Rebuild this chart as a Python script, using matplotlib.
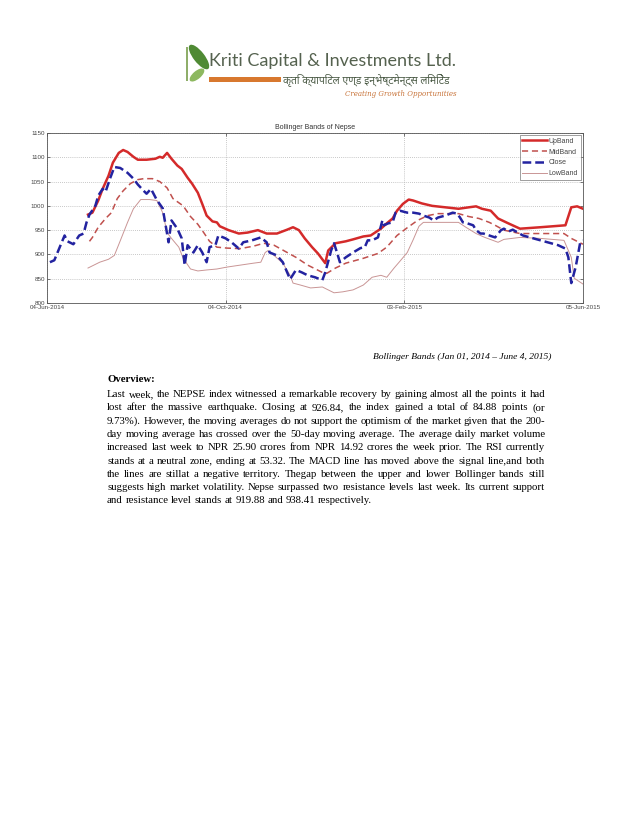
import numpy as np
import matplotlib
matplotlib.use("Agg")
import matplotlib.pyplot as plt
from matplotlib.patches import Ellipse, Rectangle

# ---------------- data ----------------
start_date = np.datetime64("2014-06-04")

close_days = [2, 5, 12, 14, 18, 22, 25, 27, 29, 33, 35, 38, 40, 43, 46, 50, 55, 59, 62, 66, 68, 71, 75, 79,
              83, 85, 89, 92, 94, 96, 100, 103, 106, 109, 111, 115, 117, 122, 126, 131, 134, 140, 146, 150,
              152, 157, 161, 166, 170, 174, 178, 183, 188, 190, 194, 196, 198, 200, 204, 209, 214, 217, 219,
              222, 226, 229, 230, 233, 236, 238, 241, 246, 250, 254, 257, 261, 264, 267, 272, 277, 280, 282,
              284, 287, 291, 293, 296, 298, 302, 306, 310, 312, 315, 318, 325, 337, 349, 354, 356, 358, 361,
              364, 366]
close_vals = [884, 888, 939, 927, 921, 939, 943, 966, 982, 1000, 1021, 1035, 1029, 1056, 1080, 1078, 1068, 1056,
              1044, 1031, 1025, 1035, 1012, 995, 925, 970, 953, 933, 878, 919, 904, 919, 904, 884, 915, 919,
              939, 933, 925, 912, 925, 929, 935, 925, 904, 898, 884, 849, 868, 863, 857, 853, 847, 863, 908,
              923, 904, 884, 894, 904, 913, 915, 929, 929, 935, 970, 960, 964, 966, 986, 990, 986, 986, 984,
              980, 976, 970, 976, 980, 986, 984, 976, 966, 964, 960, 950, 943, 943, 939, 935, 950, 953, 947,
              951, 939, 929, 919, 912, 894, 841, 874, 923, 929]

up_days = [28, 31, 35, 38, 42, 45, 49, 52, 55, 59, 62, 68, 74, 77, 79, 82, 85, 89, 92, 96, 99, 103, 106, 109,
           113, 116, 118, 124, 131, 137, 144, 150, 157, 164, 168, 172, 176, 181, 185, 190, 192, 197, 204, 209,
           216, 221, 224, 228, 232, 236, 239, 243, 247, 250, 256, 263, 272, 281, 288, 293, 297, 303, 308, 315,
           323, 337, 354, 358, 362, 366]
up_vals = [982, 986, 1011, 1035, 1062, 1089, 1109, 1115, 1111, 1101, 1095, 1095, 1097, 1101, 1099, 1109, 1097,
           1083, 1076, 1058, 1046, 1027, 1004, 980, 968, 966, 958, 950, 943, 945, 950, 943, 943, 951, 956, 950,
           933, 915, 902, 882, 908, 923, 927, 931, 937, 939, 945, 953, 964, 974, 990, 1004, 1013, 1011, 1005,
           1000, 997, 994, 997, 999, 994, 990, 974, 964, 953, 956, 960, 997, 999, 994]

mid_days = [29, 31, 35, 40, 44, 48, 52, 57, 62, 66, 72, 77, 82, 86, 93, 98, 103, 107, 111, 116, 123, 132, 141,
            148, 155, 161, 170, 178, 188, 191, 197, 204, 216, 226, 232, 239, 246, 253, 260, 267, 281, 288, 295,
            302, 306, 312, 323, 353, 358, 366]
mid_vals = [927, 935, 956, 974, 986, 1015, 1031, 1046, 1054, 1056, 1056, 1050, 1037, 1015, 1000, 978, 962, 945,
            927, 915, 913, 912, 917, 923, 919, 909, 894, 878, 863, 861, 872, 882, 892, 902, 915, 939, 955, 970,
            980, 984, 984, 978, 974, 966, 960, 950, 943, 943, 933, 921]

low_days = [28, 36, 42, 46, 50, 55, 59, 64, 70, 75, 79, 82, 85, 90, 93, 98, 103, 109, 116, 123, 132, 141, 146,
            149, 151, 155, 161, 166, 168, 173, 180, 188, 192, 196, 202, 209, 216, 222, 228, 232, 237, 241, 246,
            250, 254, 257, 281, 286, 293, 299, 308, 312, 323, 337, 353, 358, 360, 366]
low_vals = [872, 884, 890, 898, 928, 966, 994, 1013, 1013, 1011, 986, 945, 933, 915, 892, 870, 866, 868, 870,
            874, 878, 882, 884, 904, 908, 898, 882, 857, 841, 837, 831, 833, 827, 821, 823, 827, 837, 853, 857,
            853, 872, 886, 904, 930, 958, 966, 966, 956, 943, 935, 925, 931, 935, 933, 929, 894, 851, 839]

series_names = ["UpBand", "MidBand", "Close", "LowBand"]
xtick_dates = ["2014-06-04", "2014-10-04", "2015-02-03", "2015-06-05"]
xtick_labels = ["04-Jun-2014", "04-Oct-2014", "03-Feb-2015", "05-Jun-2015"]
ytick_vals = [800, 850, 900, 950, 1000, 1050, 1100, 1150]

chart_title = "Bollinger Bands of Nepse"
company = "Kriti Capital & Investments Ltd."
company_np = "कृति क्यापिटल एण्ड इन्भेष्टमेन्ट्स लिमिटेड"
slogan = "Creating Growth Opportunities"
caption = "Bollinger Bands (Jan 01, 2014 \u2013 June 4, 2015)"
heading = "Overview:"
body_lines = [
    "Last week, the NEPSE index witnessed a remarkable recovery by gaining almost all the points it had",
    "lost after the massive earthquake. Closing at 926.84, the index gained a total of 84.88 points (or",
    "9.73%). However, the moving averages do not support the optimism of the market given that the 200-",
    "day moving average has crossed over the 50-day moving average. The average daily market volume",
    "increased last week to NPR 25.90 crores from NPR 14.92 crores the week prior. The RSI currently",
    "stands at a neutral zone, ending at 53.32. The MACD line has moved above the signal line,and both",
    "the lines are stillat a negative territory. Thegap between the upper and lower Bollinger bands still",
    "suggests high market volatility. Nepse surpassed two resistance levels last week. Its current support",
    "and resistance level stands at 919.88 and 938.41 respectively.",
]


def to_dates(days):
    return start_date + np.array(days).astype("timedelta64[D]")


# ---------------- figure ----------------
W, H = 638, 826
fig = plt.figure(figsize=(W / 100, H / 100), dpi=100)
fig.patch.set_facecolor("white")

page = fig.add_axes([0, 0, 1, 1])
page.set_xlim(0, W)
page.set_ylim(H, 0)
page.axis("off")
renderer = fig.canvas.get_renderer()

# ---- logo ----
page.add_patch(Rectangle((185.5, 47), 2.2, 34, color="#8fae6a", lw=0))
page.add_patch(Ellipse((199, 57), 11, 30, angle=-38, color="#4f8a34", lw=0))
page.add_patch(Ellipse((197, 75), 8, 18, angle=50, color="#8db860", lw=0))
page.add_patch(Rectangle((209, 77), 72, 5, color="#d8782f", lw=0))
page.text(209, 61, company, fontsize=13.0, family="Lato", color="#55624f", va="center", ha="left")
page.text(283, 80, company_np, fontsize=7.5, family=["Noto Sans", "DejaVu Sans"], color="#4a5a45",
          va="center", ha="left")
page.text(457, 94.5, slogan, fontsize=5.0, family="DejaVu Serif", style="italic", color="#c8743a",
          va="center", ha="right")

# ---- chart ----
ax = fig.add_axes([47 / W, 1 - 303 / H, 536 / W, 170 / H])
ax.plot(to_dates(up_days), up_vals, color="#d42a2a", lw=1.8, label=series_names[0], zorder=3)
ax.plot(to_dates(mid_days), mid_vals, color="#c0504d", lw=1.1, ls=(0, (4, 2.5)), label=series_names[1], zorder=3)
ax.plot(to_dates(close_days), close_vals, color="#2323a0", lw=1.8, ls=(0, (3.5, 1.6)), label=series_names[2], zorder=4)
ax.plot(to_dates(low_days), low_vals, color="#c99595", lw=0.7, label=series_names[3], zorder=3)

ax.set_xlim(start_date, start_date + np.timedelta64(366, "D"))
ax.set_ylim(800, 1150)
ax.set_xticks(np.array(xtick_dates, dtype="datetime64[D]"))
ax.set_xticklabels(xtick_labels)
ax.set_yticks(ytick_vals)
ax.set_yticklabels([str(v) for v in ytick_vals])
ax.grid(True, ls=(0, (1, 1.5)), color="#b5b5b5", lw=0.6)
ax.tick_params(labelsize=4.5, colors="#444444", length=2, width=0.5, direction="in",
               top=True, right=True, pad=1.5)
for s in ax.spines.values():
    s.set_color("#555555")
    s.set_linewidth(0.6)
ax.set_title(chart_title, fontsize=5, family="Liberation Sans", color="#333333", pad=3)
leg = ax.legend(loc="upper right", frameon=True, fancybox=False, edgecolor="#555555",
                handlelength=3.6, handletextpad=0.2, borderpad=0.4, labelspacing=0.55, borderaxespad=0.3,
                prop={"family": "Liberation Sans", "size": 5})
leg.get_frame().set_linewidth(0.5)
for t in leg.get_texts():
    t.set_color("#444444")
for t in ax.get_xticklabels() + ax.get_yticklabels():
    t.set_family("Liberation Sans")

# ---- text block ----
page.text(551, 357, caption, fontsize=6.8, family="Liberation Serif", style="italic", color="black",
          ha="right", va="center")

x0, x1 = 107, 545
y_first, dy = 397, 13.3
# font size chosen so that the longest line fits the text width
probe = [page.text(0, 0, ln, fontsize=10, family="Liberation Serif") for ln in body_lines]
max_w = max(p.get_window_extent(renderer).width for p in probe)
for p in probe:
    p.remove()
fs = 10 * (x1 - x0 - 1) / max_w

page.text(107, 380, heading, fontsize=fs, family="Liberation Serif", weight="bold", color="black",
          ha="left", va="center")

for i, line in enumerate(body_lines):
    words = line.split(" ")
    y = y_first + i * dy
    texts = [page.text(0, y, w, fontsize=fs, family="Liberation Serif", color="black",
                       ha="left", va="baseline") for w in words]
    widths = [t.get_window_extent(renderer).width for t in texts]
    if i == len(body_lines) - 1:
        gap = fs * 0.25 * 100 / 72
    else:
        gap = (x1 - x0 - sum(widths)) / (len(words) - 1)
    x = x0
    for t, w in zip(texts, widths):
        t.set_x(x)
        x += w + gap

fig.savefig("out.png", dpi=100)
